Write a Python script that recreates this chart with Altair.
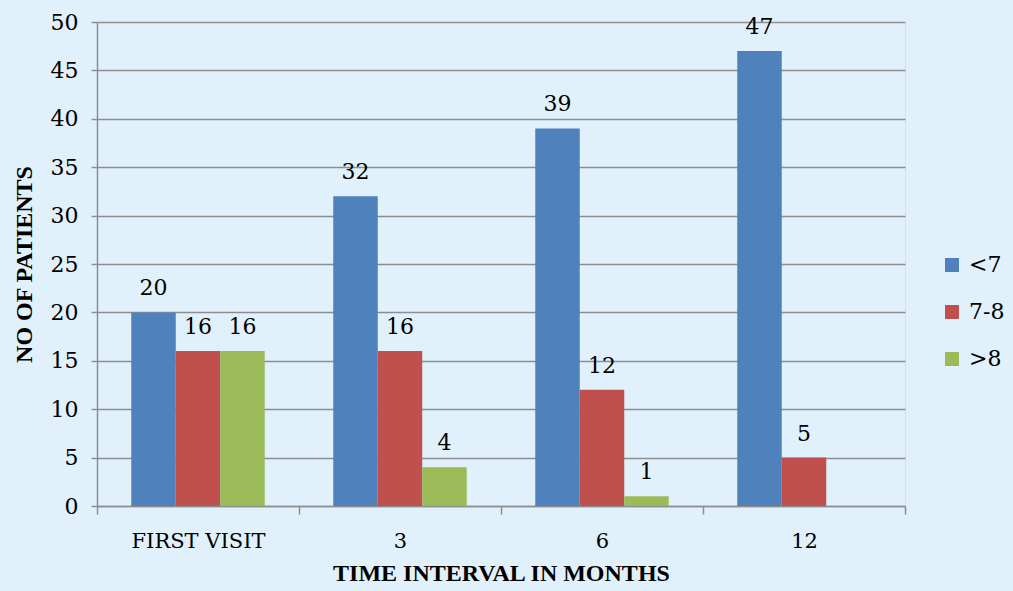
import altair as alt
import pandas as pd

categories = ["FIRST VISIT", "3", "6", "12"]
series = ["<7", "7-8", ">8"]
values_lt7 = [20, 32, 39, 47]
values_78 = [16, 16, 12, 5]
values_gt8 = [16, 4, 1, None]
colors = ["#4F81BD", "#C0504D", "#9BBB59"]

rows = []
for s, vals in zip(series, [values_lt7, values_78, values_gt8]):
    for c, v in zip(categories, vals):
        if v is not None:
            rows.append({"cat": c, "series": s, "value": v})
df = pd.DataFrame(rows)

FONT = "DejaVu Serif"
TFONT = "Liberation Serif"
GRAY = "#8E8E8E"

x = alt.X("cat:N", sort=categories,
          scale=alt.Scale(paddingInner=0, paddingOuter=0),
          axis=alt.Axis(title="TIME INTERVAL IN MONTHS", labelAngle=0, tickBand="extent",
                        labelFontSize=21, labelPadding=16, tickSize=8,
                        titleFontSize=24, titleFontWeight="bold", titlePadding=10,
                        domainColor=GRAY, tickColor=GRAY, domainWidth=1.5, tickWidth=1.5,
                        labelColor="#000000", titleColor="#000000",
                        labelFont=FONT, titleFont=TFONT))
y = alt.Y("value:Q", scale=alt.Scale(domain=[0, 50]),
          axis=alt.Axis(title="NO OF PATIENTS", values=list(range(0, 51, 5)),
                        labelFontSize=22, labelPadding=13, tickSize=6,
                        titleFontSize=24, titleFontWeight="bold", titlePadding=14,
                        domainColor=GRAY, tickColor=GRAY, domainWidth=1.5, tickWidth=1.5,
                        gridColor=GRAY, gridWidth=1.5,
                        labelColor="#000000", titleColor="#000000",
                        labelFont=FONT, titleFont=TFONT))
xo = alt.XOffset("series:N", sort=series,
                 scale=alt.Scale(paddingInner=0, paddingOuter=0.77))
color = alt.Color("series:N", sort=series,
                  scale=alt.Scale(domain=series, range=colors),
                  legend=alt.Legend(title=None, orient="none", legendX=844, legendY=232,
                                    symbolType="square", symbolSize=196, symbolStrokeWidth=0,
                                    labelFontSize=22, rowPadding=25, labelOffset=6,
                                    labelFont=FONT,
                                    labelExpr="datum.label == '7-8' ? ' 7-8' : datum.label",
                                    labelColor="#000000"))

bars = alt.Chart(df).mark_bar(stroke=None).encode(x=x, y=y, xOffset=xo, color=color)
labels = alt.Chart(df).mark_text(baseline="alphabetic", dy=-17, fontSize=22, font=FONT, color="#000000").encode(
    x=alt.X("cat:N", sort=categories), y="value:Q", xOffset=xo, text="value:Q")

chart = (bars + labels).properties(
    width=808, height=484,
    autosize=alt.AutoSizeParams(type="none"),
    padding={"left": 97, "top": 22, "right": 108, "bottom": 85},
    background="#E0F1FB",
).configure_view(stroke=None).configure(font=FONT)

chart.save("out.html", embed_options={"renderer": "svg", "actions": False})
